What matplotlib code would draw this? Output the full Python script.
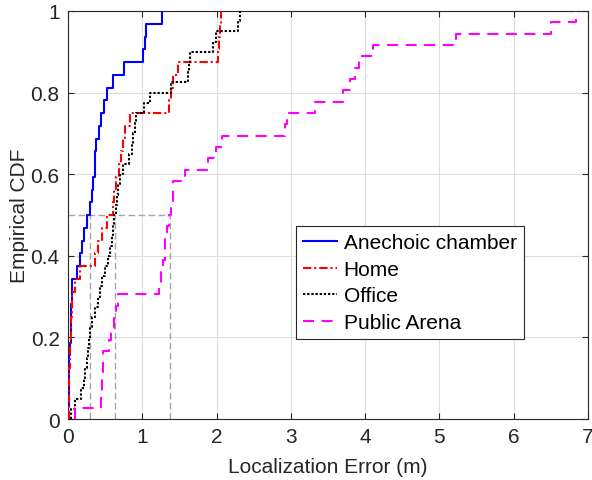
import numpy as np
import matplotlib
matplotlib.use("Agg")
import matplotlib.pyplot as plt

plt.rcParams['font.family'] = ['Liberation Sans', 'DejaVu Sans']

# Sorted localization errors (m) read from the empirical CDF steps
anechoic = [0.005, 0.01, 0.015, 0.02, 0.02, 0.025, 0.035, 0.04, 0.045, 0.05, 0.05,
            0.115, 0.16, 0.19, 0.21, 0.25, 0.30, 0.32, 0.34, 0.36, 0.37, 0.38,
            0.42, 0.45, 0.49, 0.53, 0.60, 0.75, 1.01, 1.03, 1.05, 1.27]
home = [0.01, 0.015, 0.02, 0.02, 0.025, 0.03, 0.035, 0.04, 0.05, 0.06, 0.10,
        0.16, 0.37, 0.41, 0.46, 0.52, 0.60, 0.62, 0.65, 0.68, 0.72, 0.74,
        0.77, 0.84, 1.36, 1.38, 1.41, 1.48, 2.02, 2.03, 2.04, 2.06]
office = [0.04, 0.10, 0.18, 0.21, 0.23, 0.25, 0.27, 0.285, 0.30, 0.32,
          0.36, 0.40, 0.43, 0.46, 0.50, 0.54, 0.57, 0.59, 0.61, 0.625,
          0.64, 0.655, 0.67, 0.70, 0.74, 0.82, 0.86, 0.88, 0.90, 0.92,
          1.02, 1.10, 1.38, 1.62, 1.63, 1.64, 1.95, 1.99, 2.29, 2.31]
public_arena = [0.10, 0.45, 0.455, 0.46, 0.465, 0.47, 0.55, 0.58, 0.62, 0.64,
                0.67, 1.22, 1.25, 1.28, 1.30, 1.31, 1.33, 1.36, 1.39, 1.41,
                1.42, 1.57, 1.88, 1.99, 2.07, 2.92, 2.95, 3.32, 3.70, 3.80,
                3.86, 3.92, 4.10, 5.22, 6.50, 6.84]

labels = ['Anechoic chamber', 'Home', 'Office', 'Public Arena']
medians = [0.30, 0.63, 1.37]
median_level = 0.5

x_ticks = [0, 1, 2, 3, 4, 5, 6, 7]
y_ticks = [0, 0.2, 0.4, 0.6, 0.8, 1]
y_tick_labels = ['0', '0.2', '0.4', '0.6', '0.8', '1']

fig = plt.figure(figsize=(5.92, 4.81), dpi=100)
ax = fig.add_axes([68/592, 1-420/481, 520/592, 408/481])

styles = [
    dict(color='#0000FF', linestyle='-'),
    dict(color='#FF0000', linestyle=(0, (4.0, 1.4, 1.0, 1.4))),
    dict(color='#000000', linestyle=(0, (1.1, 0.9))),
    dict(color='#FF00FF', linestyle=(0, (5.3, 3.6))),
]

ax.grid(True, color='#DEDEDE', linewidth=0.8)
ax.set_axisbelow(True)

gray = '#A6A6A6'
ax.plot([0, max(medians)], [median_level, median_level], color=gray,
        linewidth=1.0, linestyle=(0, (4.8, 2.4)), zorder=1.5)
for m in medians:
    ax.plot([m, m], [0, median_level], color=gray, linewidth=1.0,
            linestyle=(0, (4.8, 2.4)), zorder=1.5)

for data, lab, st in zip([anechoic, home, office, public_arena], labels, styles):
    x = np.sort(np.asarray(data, dtype=float))
    n = len(x)
    xs = np.concatenate([[x[0]], x])
    ys = np.concatenate([[0.0], np.arange(1, n + 1) / n])
    ax.step(xs, ys, where='post', linewidth=1.5, label=lab, zorder=3, **st)

ax.set_xlim(0, 7)
ax.set_ylim(0, 1)
ax.set_xticks(x_ticks)
ax.set_xticklabels([str(t) for t in x_ticks])
ax.set_yticks(y_ticks)
ax.set_yticklabels(y_tick_labels)

axc = '#262626'
for sp in ax.spines.values():
    sp.set_color(axc)
    sp.set_linewidth(0.8)
ax.tick_params(direction='in', length=4, width=0.8, colors=axc, labelsize=15,
               top=True, right=True, pad=6)

ax.set_xlabel('Localization Error (m)', fontsize=15, color=axc, labelpad=8)
ax.set_ylabel('Empirical CDF', fontsize=15, color=axc, labelpad=1)

leg = ax.legend(loc='upper left', bbox_to_anchor=(0.438, 0.473), fontsize=15,
                frameon=True, fancybox=False, framealpha=1, edgecolor=axc,
                handlelength=1.65, handletextpad=0.3, labelspacing=0.36,
                borderpad=0.35, borderaxespad=0)
leg.get_frame().set_linewidth(0.8)

fig.savefig('out.png', dpi=100)
